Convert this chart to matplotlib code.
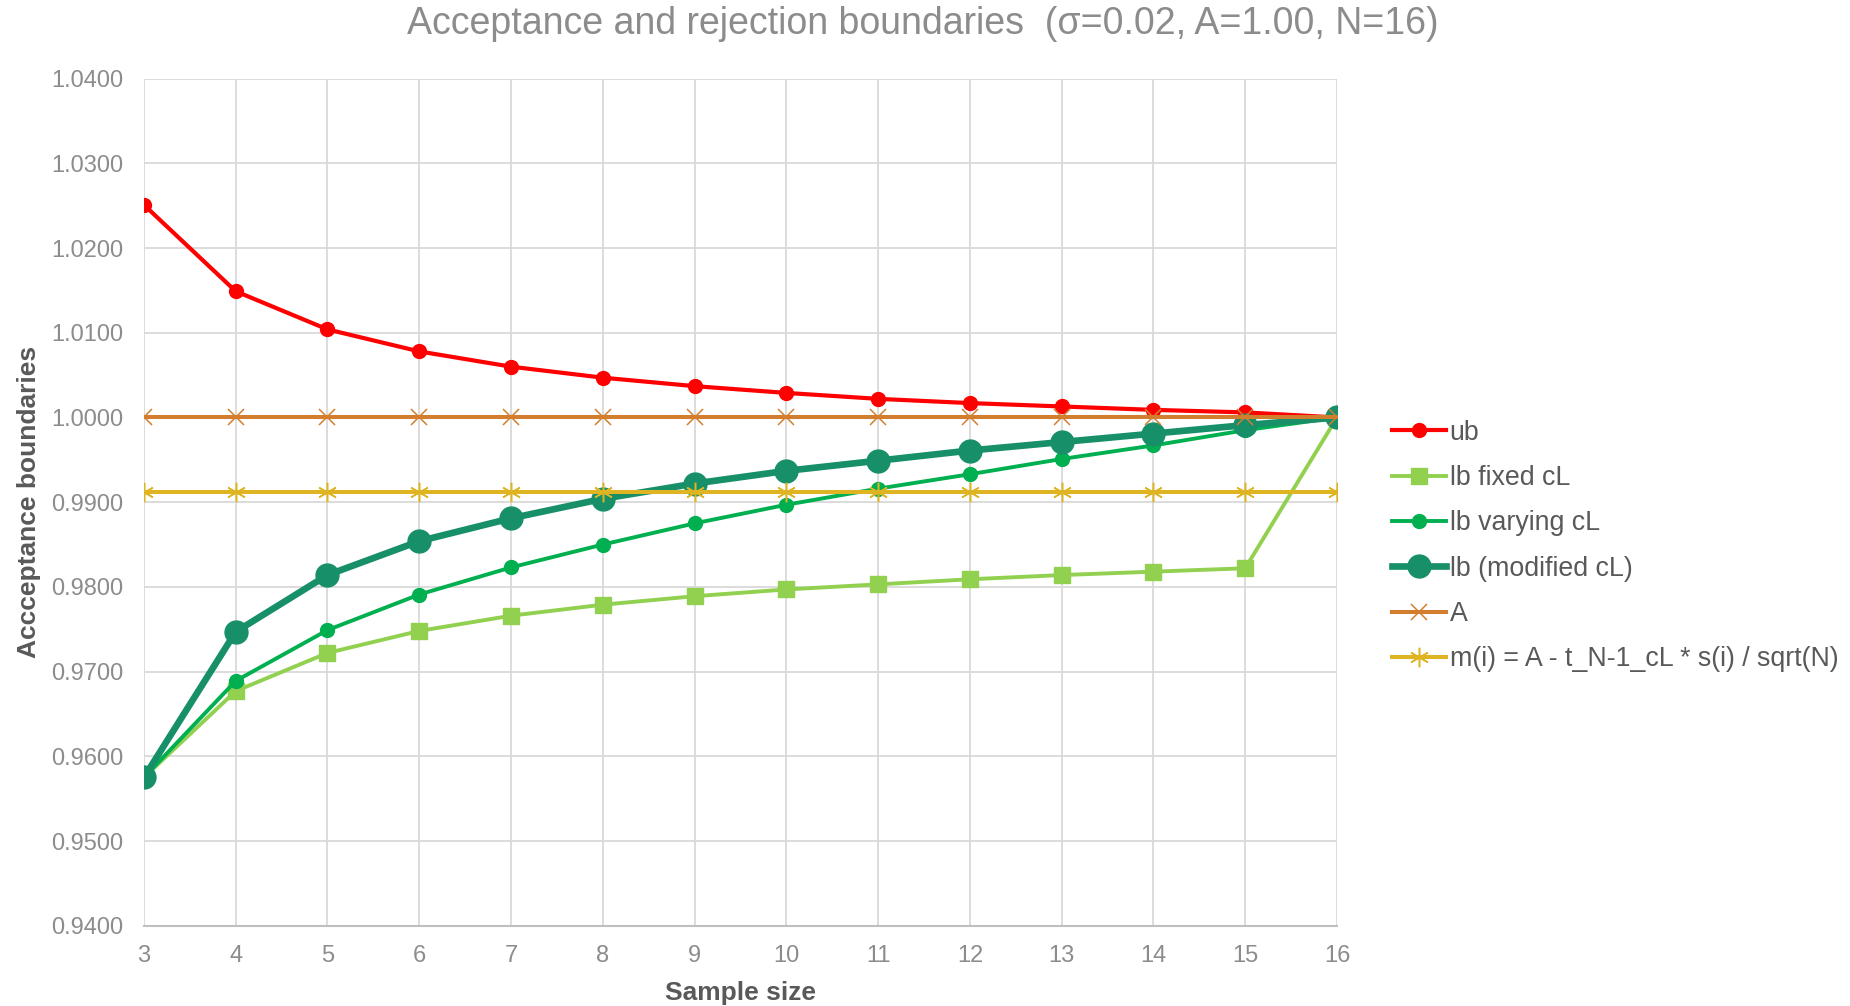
import matplotlib
matplotlib.use("Agg")
import matplotlib.pyplot as plt
from matplotlib.ticker import FixedLocator, FormatStrFormatter

plt.rcParams['font.family'] = ['Liberation Sans', 'DejaVu Sans']

# Sample sizes and boundary values
sample_size = [3, 4, 5, 6, 7, 8, 9, 10, 11, 12, 13, 14, 15, 16]
ub = [1.0251, 1.0149, 1.0104, 1.0078, 1.0060, 1.0047, 1.0037, 1.0029,
      1.0022, 1.0017, 1.0013, 1.0009, 1.0006, 1.0000]
lb_fixed = [0.9575, 0.9677, 0.9722, 0.9748, 0.9766, 0.9779, 0.9789, 0.9797,
            0.9803, 0.9809, 0.9814, 0.9818, 0.9822, 1.0000]
lb_varying = [0.9575, 0.9689, 0.9749, 0.9791, 0.9823, 0.9850, 0.9875, 0.9897,
              0.9916, 0.9933, 0.9951, 0.9967, 0.9985, 1.0000]
lb_modified = [0.9575, 0.9747, 0.9814, 0.9854, 0.9881, 0.9904, 0.9922, 0.9937,
               0.9949, 0.9961, 0.9971, 0.9981, 0.9991, 1.0000]
A_level = [1.0000] * 14
m_level = [0.9912] * 14

y_ticks = [0.94, 0.95, 0.96, 0.97, 0.98, 0.99, 1.00, 1.01, 1.02, 1.03, 1.04]

fig = plt.figure(figsize=(18.5, 10.06), dpi=100)
ax = fig.add_axes([0.0778, 0.0798, 0.7227 - 0.0778, 0.9218 - 0.0798])

ax.plot(sample_size, ub, color='#FF0000', lw=3.0, marker='o', ms=10,
        label='ub', zorder=3)
ax.plot(sample_size, lb_fixed, color='#92D050', lw=2.8, marker='s', ms=12,
        label='lb fixed cL', zorder=3)
ax.plot(sample_size, lb_varying, color='#00B050', lw=2.8, marker='o', ms=10,
        label='lb varying cL', zorder=3)
ax.plot(sample_size, lb_modified, color='#178F69', lw=4.8, marker='o', ms=16.5,
        label='lb (modified cL)', zorder=3)
ax.plot(sample_size, A_level, color='#D27E2E', lw=2.9, marker='x', ms=12,
        mew=1.1, label='A', zorder=3)
ax.plot(sample_size, m_level, color='#DEB422', lw=2.9, marker=(6, 2, 0), ms=14,
        mew=1.1, label='m(i) = A - t_N-1_cL * s(i) / sqrt(N)', zorder=3)

ax.set_xlim(3, 16)
ax.set_ylim(0.94, 1.04)
ax.xaxis.set_major_locator(FixedLocator(sample_size))
ax.yaxis.set_major_locator(FixedLocator(y_ticks))
ax.yaxis.set_major_formatter(FormatStrFormatter('%.4f'))

ax.grid(True, color='#D9D9D9', lw=1.3, zorder=0)
for side in ['top', 'right', 'left']:
    ax.spines[side].set_visible(False)
ax.spines['bottom'].set_color('#BFBFBF')
ax.spines['bottom'].set_linewidth(1.5)
ax.tick_params(axis='both', length=0, labelsize=17, labelcolor='#8C8C8C')
ax.tick_params(axis='y', pad=15)
ax.tick_params(axis='x', pad=13.7)

ax.set_xlabel('Sample size', fontsize=19, fontweight='bold', color='#595959',
              labelpad=10.5)
ax.set_ylabel('Accceptance boundaries', fontsize=19, fontweight='bold',
              color='#595959', labelpad=7)

fig.text(0.499, 0.9765,
         'Acceptance and rejection boundaries  (σ=0.02, A=1.00, N=16)',
         ha='center', va='center', fontsize=27, color='#8C8C8C')

leg = fig.legend(loc='center left', bbox_to_anchor=(0.7524, 0.4573),
                 frameon=False, fontsize=19.3, handlelength=2.0,
                 handletextpad=0.15, labelspacing=0.72, borderpad=0,
                 borderaxespad=0)
for t in leg.get_texts():
    t.set_color('#595959')

fig.savefig('out.png', dpi=100)
